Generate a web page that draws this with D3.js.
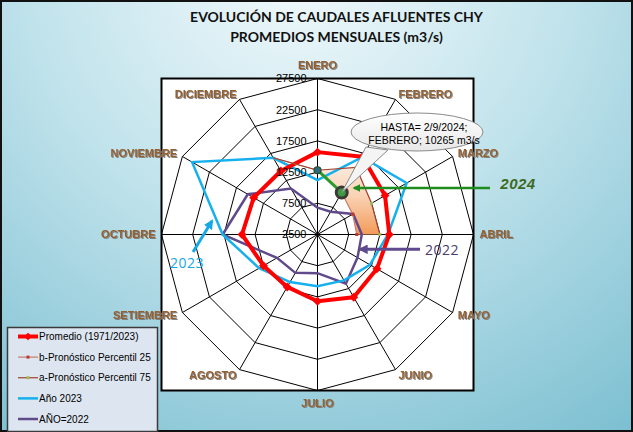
<!DOCTYPE html>
<html><head><meta charset="utf-8">
<script src="https://cdn.jsdelivr.net/npm/d3@7"></script>
<style>body{margin:0;background:#fff;} svg{display:block;}</style>
</head><body>
<script>
// ---------- DATA ----------
const months = ["ENERO","FEBRERO","MARZO","ABRIL","MAYO","JUNIO","JULIO","AGOSTO","SETIEMBRE","OCTUBRE","NOVIEMBRE","DICIEMBRE"];
const promedio = [15700, 16900, 15000, 14000, 13500, 14100, 13200, 12200, 12500, 14600, 14300, 14250];
const anio2023 = [11200, 16800, 19000, 13800, 12200, 11000, 10800, 11300, 13300, 17700, 25700, 16700];
const anio2022 = [6800, 6700, 9100, 9600, 9900, 11600, 8700, 9600, 10000, 17700, 15400, 11000];
const anio2024 = [12800, 10265, null, null, null, null, null, null, null, null, null, null];
// forecast percentiles (start at Dec-2023 value, then Jan/Feb 2024 ...)
const p25 = [12800, 10265, 9000, 8800, null, null, null, null, null, null, null, 16700];
const p75 = [12800, 14900, 12500, 12500, null, null, null, null, null, null, null, 16700];
const tickValues = [2500, 7500, 12500, 17500, 22500, 27500];
const legendLabels = ["Promedio (1971/2023)", "b-Pronóstico  Percentil 25", "a-Pronóstico  Percentil 75", "Año 2023", "AÑO=2022"];
const titleLines = ["EVOLUCIÓN DE CAUDALES AFLUENTES CHY", "PROMEDIOS MENSUALES (m3/s)"];
const calloutLines = ["HASTA= 2/9/2024;", "FEBRERO; 10265 m3/s"];

// ---------- LAYOUT ----------
const W = 633, H = 432;
const cx = 317.5, cy = 234.5, R = 156;
const svg = d3.select("body").append("svg").attr("width", W).attr("height", H);
const defs = svg.append("defs");

const bg = defs.append("radialGradient").attr("id","bg").attr("gradientUnits","userSpaceOnUse")
  .attr("cx",300).attr("cy",-40).attr("r",620);
bg.append("stop").attr("offset","0%").attr("stop-color","#f3fafc");
bg.append("stop").attr("offset","45%").attr("stop-color","#bfe2eb");
bg.append("stop").attr("offset","100%").attr("stop-color","#72bacd");

const band = defs.append("linearGradient").attr("id","band").attr("x1",0).attr("y1",0).attr("x2",0).attr("y2",1);
band.append("stop").attr("offset","0%").attr("stop-color","#fdf1e9");
band.append("stop").attr("offset","50%").attr("stop-color","#f9d2b4");
band.append("stop").attr("offset","100%").attr("stop-color","#f39b58");

const ell = defs.append("linearGradient").attr("id","ell").attr("x1",0).attr("y1",0).attr("x2",0).attr("y2",1);
ell.append("stop").attr("offset","0%").attr("stop-color","#ffffff");
ell.append("stop").attr("offset","100%").attr("stop-color","#e8e8e8");

const sh = defs.append("filter").attr("id","shadow").attr("x","-20%").attr("y","-40%").attr("width","140%").attr("height","180%");
sh.append("feDropShadow").attr("dx",1).attr("dy",1).attr("stdDeviation",0.7).attr("flood-color","#7a7a7a").attr("flood-opacity",0.9);

function arrow(id, color){
  defs.append("marker").attr("id",id).attr("viewBox","0 0 10 10").attr("refX",8).attr("refY",5)
    .attr("markerWidth",3.2).attr("markerHeight",3.2).attr("orient","auto-start-reverse")
    .append("path").attr("d","M0,0L10,5L0,10z").attr("fill",color);
}
arrow("agreen","#1e8c1e"); arrow("apurple","#5e4a8c"); arrow("ablue","#16a8e6");

// background
svg.append("rect").attr("width",W).attr("height",H).attr("fill","url(#bg)");
svg.append("rect").attr("x",1).attr("y",1).attr("width",W-2).attr("height",H-2)
  .attr("fill","none").attr("stroke","#111").attr("stroke-width",2);

// title
svg.selectAll("text.title").data(titleLines).join("text").attr("class","title")
  .attr("x",336.5).attr("y",(d,i)=>22+i*20).attr("text-anchor","middle")
  .attr("font-family","Lato, 'Open Sans', sans-serif").attr("font-weight","bold")
  .attr("font-size",14).attr("fill","#111").text(d=>d);

// scales
const r = d3.scaleLinear().domain([2500, 27500]).range([0, R]);
const ang = d3.scaleLinear().domain([0, 12]).range([0, 2*Math.PI]);
const px = (i,v)=> cx + r(v)*Math.sin(ang(i));
const py = (i,v)=> cy - r(v)*Math.cos(ang(i));

// plot area
svg.append("rect").attr("x",cx-R).attr("y",cy-R).attr("width",2*R).attr("height",2*R)
  .attr("fill","#fff").attr("stroke","#000").attr("stroke-width",2);

const g = svg.append("g").attr("transform",`translate(${cx},${cy})`);
const ringLine = d3.lineRadial().angle(d=>ang(d.i)).radius(d=>r(d.v)).curve(d3.curveLinearClosed);

// rings
g.selectAll("path.ring").data(tickValues.slice(1)).join("path").attr("class","ring")
  .attr("d", v => ringLine(months.map((m,i)=>({i, v}))))
  .attr("fill","none").attr("stroke","#000").attr("stroke-width",1);
// spokes
g.selectAll("line.spoke").data(months).join("line").attr("class","spoke")
  .attr("x1",0).attr("y1",0)
  .attr("x2",(d,i)=>r(tickValues[tickValues.length-1])*Math.sin(ang(i)))
  .attr("y2",(d,i)=>-r(tickValues[tickValues.length-1])*Math.cos(ang(i)))
  .attr("stroke","#000").attr("stroke-width",1);

// band (between percentiles): order Dic -> Ene -> Feb -> Mar -> Abr
const fcIdx = [11, 0, 1, 2, 3];
const bandPts = fcIdx.map(i=>[px(i,p75[i]),py(i,p75[i])])
  .concat(fcIdx.slice().reverse().map(i=>[px(i,p25[i]),py(i,p25[i])]));
svg.append("path").attr("d", d3.line()(bandPts)+"Z").attr("fill","url(#band)").attr("stroke","none");

// series helper
const openLine = d3.line();
function closedSeries(vals){ return d3.line().curve(d3.curveLinearClosed)(vals.map((v,i)=>[px(i,v),py(i,v)])); }

svg.append("path").attr("d", closedSeries(anio2022)).attr("fill","none")
  .attr("stroke","#604a8b").attr("stroke-width",2.5).attr("stroke-linejoin","miter");
svg.append("path").attr("d", closedSeries(anio2023)).attr("fill","none")
  .attr("stroke","#16b0ee").attr("stroke-width",2.5);
svg.append("path").attr("d", closedSeries(promedio)).attr("fill","none")
  .attr("stroke","#ff0000").attr("stroke-width",4).attr("stroke-linejoin","round");
svg.selectAll("path.pm").data(promedio).join("path").attr("class","pm")
  .attr("transform",(v,i)=>`translate(${px(i,v)},${py(i,v)}) rotate(45)`)
  .attr("d", d3.symbol(d3.symbolSquare, 40)).attr("fill","#ff0000");

// percentile lines
svg.append("path").attr("d", openLine(fcIdx.map(i=>[px(i,p25[i]),py(i,p25[i])])))
  .attr("fill","none").attr("stroke","#c97a6e").attr("stroke-width",1.2);
svg.append("path").attr("d", openLine(fcIdx.map(i=>[px(i,p75[i]),py(i,p75[i])])))
  .attr("fill","none").attr("stroke","#a0412d").attr("stroke-width",1.2);
svg.selectAll("rect.m25").data(fcIdx.slice(2)).join("rect").attr("class","m25")
  .attr("x",i=>px(i,p25[i])-1.5).attr("y",i=>py(i,p25[i])-1.5).attr("width",3).attr("height",3).attr("fill","#c0392b");
svg.selectAll("rect.m75").data(fcIdx.slice(2)).join("rect").attr("class","m75")
  .attr("x",i=>px(i,p75[i])-1.5).attr("y",i=>py(i,p75[i])-1.5).attr("width",3).attr("height",3).attr("fill","#9bbb59");

// 2024
const pts24 = anio2024.map((v,i)=>({v,i})).filter(d=>d.v!=null);
svg.append("path").attr("d", openLine(pts24.map(d=>[px(d.i,d.v),py(d.i,d.v)])))
  .attr("fill","none").attr("stroke","#2e9a2e").attr("stroke-width",3);

// tick labels
svg.selectAll("text.tick").data(tickValues).join("text").attr("class","tick")
  .attr("x",cx-11).attr("y",v=>cy-r(v)).attr("dy","0.36em").attr("text-anchor","end")
  .attr("font-family","Arial, 'Liberation Sans', sans-serif").attr("font-size",11).attr("fill","#000")
  .text(v=>v);

// 2024 markers (on top)
svg.append("circle").attr("cx",px(0,anio2024[0])).attr("cy",py(0,anio2024[0])).attr("r",3.5)
  .attr("fill","#2b6a7a").attr("stroke","#2d4a2d").attr("stroke-width",1.2);
svg.append("circle").attr("cx",px(1,anio2024[1])).attr("cy",py(1,anio2024[1])).attr("r",5.5)
  .attr("fill","#3c9a44").attr("stroke","#3d3a36").attr("stroke-width",3);

// category labels
const LR = 162;
svg.selectAll("text.cat").data(months).join("text").attr("class","cat")
  .attr("x",(d,i)=>cx+LR*Math.sin(ang(i)))
  .attr("y",(d,i)=>{const c=Math.cos(ang(i)), s=Math.sin(ang(i)); let y=cy-LR*c; if(Math.abs(s)<0.01) y-= c*7; return y;})
  .attr("dy","0.36em")
  .attr("text-anchor",(d,i)=>{const s=Math.sin(ang(i)); return s>0.01?"start":(s<-0.01?"end":"middle");})
  .attr("font-family","Arial, 'Liberation Sans', sans-serif").attr("font-weight","bold").attr("font-size",11)
  .attr("fill","#93602f").attr("filter","url(#shadow)").text(d=>d);

// callout
const fp = [px(1,anio2024[1]), py(1,anio2024[1])];
svg.append("path").attr("d", `M${366},${147}L${fp[0]},${fp[1]}L${388},${150}Z`)
  .attr("fill","#f4f4f4").attr("stroke","#8a8a8a").attr("stroke-width",1);
svg.append("ellipse").attr("cx",417).attr("cy",132).attr("rx",66).attr("ry",19)
  .attr("fill","url(#ell)").attr("stroke","#8a8a8a").attr("stroke-width",1);
svg.selectAll("text.call").data(calloutLines).join("text").attr("class","call")
  .attr("x",424).attr("y",(d,i)=>127+i*13.5).attr("dy","0.36em").attr("text-anchor","middle")
  .attr("font-family","Arial, 'Liberation Sans', sans-serif").attr("font-size",10.5).attr("fill","#000")
  .text(d=>d);

// arrows + year labels
svg.append("line").attr("x1",490).attr("y1",188).attr("x2",354).attr("y2",188)
  .attr("stroke","#1e8c1e").attr("stroke-width",2.5).attr("marker-end","url(#agreen)");
svg.append("text").attr("x",518).attr("y",184).attr("dy","0.36em").attr("text-anchor","middle")
  .attr("font-family","Arial, 'Liberation Sans', sans-serif").attr("font-weight","bold").attr("font-style","italic")
  .attr("font-size",15).attr("fill","#3f6a22").attr("letter-spacing",0.5).text("2024");
svg.append("line").attr("x1",420).attr("y1",249.3).attr("x2",360).attr("y2",249.3)
  .attr("stroke","#5e4a8c").attr("stroke-width",3).attr("marker-end","url(#apurple)");
svg.append("text").attr("x",442).attr("y",249.5).attr("dy","0.36em").attr("text-anchor","middle")
  .attr("font-family","'Open Sans', Arial, sans-serif").attr("font-size",14).attr("fill","#4a3b6e")
  .attr("letter-spacing",0.5).text("2022");
svg.append("line").attr("x1",193).attr("y1",252).attr("x2",212).attr("y2",221)
  .attr("stroke","#16a8e6").attr("stroke-width",3).attr("marker-end","url(#ablue)");
svg.append("text").attr("x",187).attr("y",263).attr("dy","0.36em").attr("text-anchor","middle")
  .attr("font-family","'Open Sans', Arial, sans-serif").attr("font-size",14).attr("fill","#16a8e6")
  .attr("letter-spacing",0.5).text("2023");

// legend
const lg = svg.append("g");
lg.append("rect").attr("x",7.5).attr("y",327.5).attr("width",150).attr("height",104)
  .attr("fill","#dde6f0").attr("stroke","#3a3a3a").attr("stroke-width",1.5);
const ly = d3.scalePoint().domain(legendLabels).range([336.5, 419]);
const styles = [
  {c:"#ff0000", w:4, m:"diamond", mc:"#ff0000"},
  {c:"#c97a6e", w:1.2, m:"sq", mc:"#c0392b"},
  {c:"#a0412d", w:1.2, m:"sq", mc:"#9bbb59"},
  {c:"#16b0ee", w:2.5},
  {c:"#604a8b", w:2.5}
];
legendLabels.forEach((lab,k)=>{
  const y = ly(lab), s = styles[k];
  lg.append("line").attr("x1",18).attr("x2",38).attr("y1",y).attr("y2",y).attr("stroke",s.c).attr("stroke-width",s.w);
  if(s.m==="diamond") lg.append("path").attr("transform",`translate(28,${y}) rotate(45)`).attr("d",d3.symbol(d3.symbolSquare,30)).attr("fill",s.mc);
  if(s.m==="sq") lg.append("rect").attr("x",26.5).attr("y",y-1.5).attr("width",3).attr("height",3).attr("fill",s.mc);
  lg.append("text").attr("x",39).attr("y",y).attr("dy","0.36em")
    .attr("font-family","Arial, 'Liberation Sans', sans-serif").attr("font-size",10).attr("fill","#000").text(lab);
});
</script>
</body></html>
